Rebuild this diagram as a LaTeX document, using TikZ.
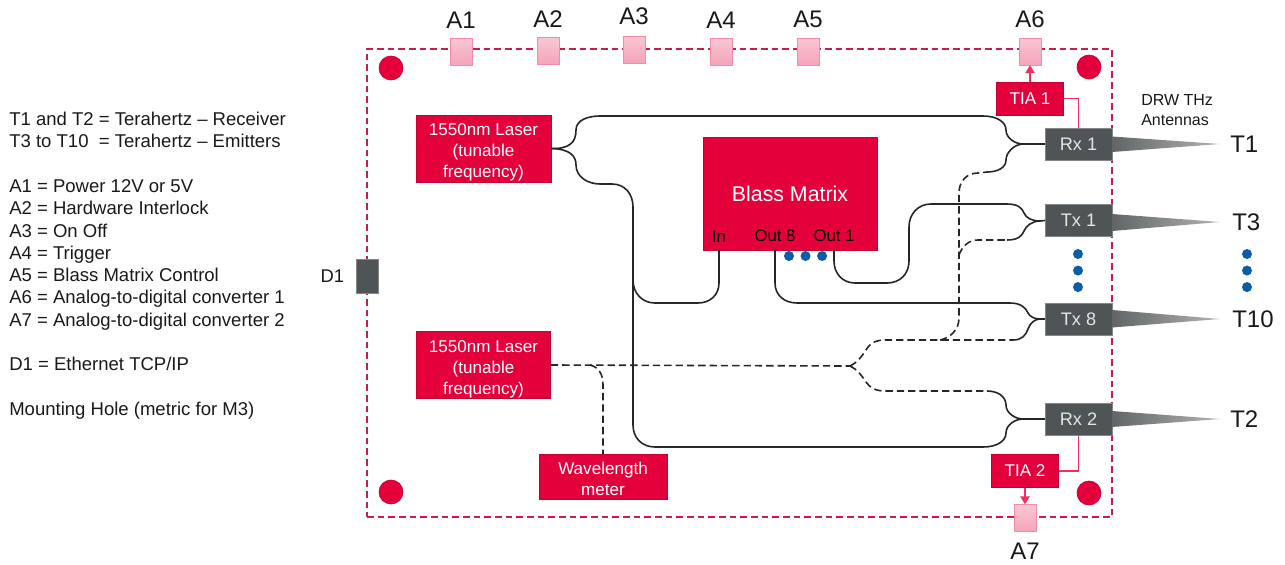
\documentclass[tikz,border=0pt]{standalone}
\usepackage{fontspec}
\setmainfont{Liberation Sans}
\usetikzlibrary{positioning,arrows.meta}
\definecolor{rosu}{HTML}{E4003A}
\definecolor{rosulinie}{HTML}{C81E4A}
\definecolor{legroz}{HTML}{F0305F}
\definecolor{gri}{HTML}{4F5456}
\definecolor{albastru}{HTML}{0A5EA8}
\newcommand{\primalinie}{\rule{0pt}{15pt}}
\tikzset{
  bloc/.style      = {fill=rosu, draw=rosu!85!black, line width=0.5pt, align=center, inner sep=0pt,
                      text=white, font=\fontsize{12.8}{15.6}\selectfont},
  modul/.style     = {fill=gri, draw=gri!70!white, line width=0.5pt, inner sep=0pt, minimum width=50pt,
                      minimum height=24pt, text=white!90!black, font=\fontsize{13.6}{16}\selectfont},
  port/.style      = {top color=rosu!22!white, bottom color=rosu!36!white, draw=rosu!45!white,
                      line width=0.5pt, inner sep=0pt, minimum width=16.5pt, minimum height=20pt},
  gaura/.style     = {circle, fill=rosu, draw=rosu!85!black, line width=0.5pt, inner sep=0pt, minimum size=18pt},
  punct/.style     = {circle, fill=albastru, inner sep=0pt, minimum size=7.5pt},
  eticheta/.style  = {inner sep=0pt, text=black!90, font=\fontsize{18}{20}\selectfont},
  iesire/.style    = {inner sep=0pt, text=black, font=\fontsize{12.5}{15}\selectfont},
  fibra/.style     = {line width=1.2pt, black!85},
  fibrapunct/.style = {fibra, dash pattern=on 5.5pt off 3pt},
  legatura/.style  = {line width=1.1pt, legroz},
  sageata/.style   = {legatura, -{Triangle[length=6pt,width=7pt]}},
  antena/.style    = {left color=gri!90!white, right color=black!30}
}
\begin{document}
\begin{tikzpicture}[x=0.75pt, y=-0.75pt]
    \useasboundingbox (0,0) rectangle (1285,564);
    \node[draw=rosulinie, dash pattern=on 5pt off 3pt, line width=0.8pt, inner sep=0pt, minimum width=558.75pt,
          minimum height=351pt] (placa) at (739.5,283) {};

    \node[port] (A1) at (461,51.5) {};
    \node[port] (A2) at (548,51) {};
    \node[port] (A3) at (634,49.5) {};
    \node[port] (A4) at (721,51.5) {};
    \node[port] (A5) at (808,51.5) {};
    \node[port] (A6) at (1030,51.5) {};
    \node[port] (A7) at (1025,518) {};
    \node[eticheta, above=7pt of A1] (etA1) {A1};
    \node[eticheta, above=7pt of A2] (etA2) {A2};
    \node[eticheta, above=8pt of A3] (etA3) {A3};
    \node[eticheta, above=7pt of A4] (etA4) {A4};
    \node[eticheta, above=7pt of A5] (etA5) {A5};
    \node[eticheta, above=7pt of A6] (etA6) {A6};
    \node[eticheta, below=8.5pt of A7] (etA7) {A7};

    \node[gaura] (gauraA) at (391,68) {};
    \node[gaura] (gauraB) at (1089,67) {};
    \node[gaura] (gauraC) at (391,492) {};
    \node[gaura] (gauraD) at (1089,493) {};

    \node[fill=gri, draw=gri!70!white, line width=0.5pt, inner sep=0pt, minimum width=16.5pt, minimum height=25.5pt] (D1) at (367,276) {};
    \node[inner sep=0pt, text=black!90, font=\fontsize{13.8}{16}\selectfont, left=8.5pt of D1] (etD1) {D1};

    \node[bloc, minimum width=101pt, minimum height=50.5pt] (laserA) at (483.5,148.5) {\primalinie 1550nm Laser\\(tunable\\frequency)};
    \node[bloc, minimum width=100.5pt, minimum height=50.5pt] (laserB) at (483.5,365) {\primalinie 1550nm Laser\\(tunable\\frequency)};
    \node[bloc, minimum width=130.5pt, minimum height=84.5pt] (blass) at (790,193.5) {};
    \node[inner sep=0pt, text=white, font=\fontsize{16}{19}\selectfont] (etBlass) at (790,194) {Blass Matrix};
    \node[iesire] (intrare) at (719,237) {In};
    \node[iesire] (iesireH) at (775,236) {Out 8};
    \node[iesire] (iesireA) at (834,236) {Out 1};
    \node[punct] (punctA) at (789,256) {};
    \node[punct, right=4.5pt of punctA] (punctB) {};
    \node[punct, right=4.5pt of punctB] (punctC) {};
    \node[bloc, minimum width=96pt, minimum height=33.5pt] (lungime) at (603,476.5) {\rule{0pt}{13pt}Wavelength\\meter};

    \node[modul] (rxA) at (1078.5,144) {Rx 1};
    \node[modul] (txA) at (1078.5,220.5) {Tx 1};
    \node[modul] (txH) at (1078.5,319) {Tx 8};
    \node[modul] (rxB) at (1078.5,419) {Rx 2};
    \node[bloc, minimum width=50pt, minimum height=24.5pt] (tiaA) at (1030,98.5) {TIA 1};
    \node[bloc, minimum width=50pt, minimum height=24.5pt] (tiaB) at (1025,471) {TIA 2};

    \node[punct] (puncteA) at (1078,254) {};
    \node[punct, below=4.5pt of puncteA] (puncteB) {};
    \node[punct, below=4.5pt of puncteB] (puncteC) {};
    \node[punct] (puncteD) at (1247,254) {};
    \node[punct, below=4.5pt of puncteD] (puncteE) {};
    \node[punct, below=4.5pt of puncteE] (puncteF) {};

    \coordinate (varfA) at (1220,144);
    \coordinate (varfB) at (1220,222);
    \coordinate (varfC) at (1220,319);
    \coordinate (varfD) at (1220,419);
    \shade[antena] (1112,136.5) -- (varfA) -- (1112,152) -- cycle;
    \shade[antena] (1112,214) -- (varfB) -- (1112,231) -- cycle;
    \shade[antena] (1112,310) -- (varfC) -- (1112,327.5) -- cycle;
    \shade[antena] (1112,411) -- (varfD) -- (1112,427) -- cycle;
    \node[eticheta, right=7.5pt of varfA] (etT1) {T1};
    \node[eticheta, right=9pt of varfB] (etT3) {T3};
    \node[eticheta, right=9pt of varfC] (etT10) {T10};
    \node[eticheta, right=7.5pt of varfD] (etT2) {T2};
    \node[inner sep=0pt, anchor=west, align=left, text=black!90, font=\fontsize{12}{15}\selectfont] (antene) at (1141,110) {DRW THz\\Antennas};

    \draw[fibra] (laserA.east) .. controls (570,149) and (576,142) .. (576,130) .. controls (576,120) and (588,116) .. (600,116)
        -- (983,116) .. controls (997,116) and (1006,122) .. (1006,130) .. controls (1006,138) and (1015,144) .. (1023,144) -- (rxA.west);
    \draw[fibra] (laserA.east) .. controls (570,149) and (576,156) .. (576,165) .. controls (576,177) and (588,184) .. (600,184)
        -- (612,184) .. controls (625,184) and (633,194) .. (633,207) -- (633,425) .. controls (633,438) and (642,447) .. (655,447)
        -- (983,447) .. controls (997,447) and (1006,441) .. (1006,433) .. controls (1006,425) and (1015,419) .. (1023,419) -- (rxB.west);
    \coordinate (ramura) at (633,280);
    \draw[fibra] (ramura) .. controls (633,293) and (642,303) .. (655,303) -- (698,303) .. controls (710,303) and (719,295) .. (719,283) -- (intrare |- blass.south);
    \draw[fibra] (iesireH |- blass.south) -- (775,283) .. controls (775,295) and (784,303) .. (797,303) -- (1010,303)
        .. controls (1021,303) and (1026,308) .. (1028,313) .. controls (1030,317) and (1035,319) .. (1040,319) -- (txH.west);
    \draw[fibra] (iesireA |- blass.south) -- (834,261) .. controls (834,274) and (843,283) .. (855,283) -- (887,283)
        .. controls (900,283) and (909,274) .. (909,261) -- (909,227) .. controls (909,214) and (918,204) .. (931,204) -- (1007,204)
        .. controls (1018,204) and (1022,208) .. (1024,213) .. controls (1026,218) and (1032,221) .. (1040,221) -- (txA.west);

    \coordinate (ramificatie) at (850,366);
    \coordinate (coltH) at (940,340);
    \coordinate (coltA) at (959,255);
    \draw[fibrapunct] (laserB.east) -- (ramificatie);
    \draw[fibrapunct] (590,365) .. controls (598,367) and (603,373) .. (603,385) -- (lungime.north);
    \draw[fibrapunct] (ramificatie) .. controls (858,362) and (862,356) .. (866,350) .. controls (870,343) and (876,340) .. (885,340) -- (1013,340);
    \draw[fibrapunct] (ramificatie) .. controls (858,370) and (862,376) .. (866,382) .. controls (870,388) and (876,391) .. (885,391) -- (987,391);
    \draw[fibrapunct] (coltH) .. controls (950,338) and (959,330) .. (959,318) -- (959,193) .. controls (959,181) and (967,173) .. (978,173) -- (987,172);
    \draw[fibrapunct] (coltA) .. controls (962,247) and (968,240) .. (978,240) -- (1007,240);
    \draw[fibra] (1013,340) .. controls (1022,340) and (1026,335) .. (1028,329) .. controls (1030,323) and (1035,319) .. (1040,319);
    \draw[fibra] (987,391) .. controls (997,391) and (1006,396) .. (1006,405) .. controls (1006,413) and (1015,419) .. (1023,419);
    \draw[fibra] (987,172) .. controls (997,172) and (1006,168) .. (1006,160) .. controls (1006,152) and (1015,144) .. (1023,144);
    \draw[fibra] (1007,240) .. controls (1018,240) and (1022,236) .. (1024,231) .. controls (1026,226) and (1032,221) .. (1040,221);

    \draw[legatura] (tiaA.east) -| (rxA.north);
    \draw[legatura] (tiaB.east) -| (rxB.south);
    \draw[sageata] (tiaA.north) -- (A6.south);
    \draw[sageata] (tiaB.south) -- (A7.north);

    \node[inner sep=0pt, anchor=north west, align=left, text=black!90, font=\fontsize{13.9}{16.7}\selectfont] (legenda) at (9,112) {%
        T1 and T2 = Terahertz -- Receiver\\
        T3 to T10\ \ = Terahertz -- Emitters\\
        \mbox{}\\
        A1 = Power 12V or 5V\\
        A2 = Hardware Interlock\\
        A3 = On Off\\
        A4 = Trigger\\
        A5 = Blass Matrix Control\\
        A6 = Analog-to-digital converter 1\\
        A7 = Analog-to-digital converter 2\\
        \mbox{}\\
        D1 = Ethernet TCP/IP\\
        \mbox{}\\
        Mounting Hole (metric for M3)};
\end{tikzpicture}
\end{document}
